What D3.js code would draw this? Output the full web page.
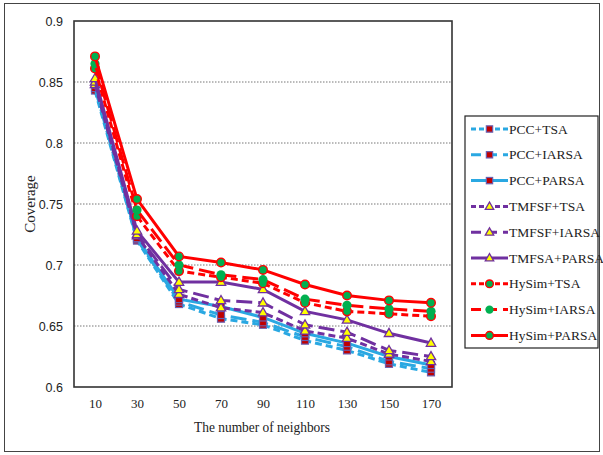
<!DOCTYPE html>
<html>
<head>
<meta charset="utf-8">
<script src="https://cdn.jsdelivr.net/npm/d3@7"></script>
<style>
  html, body { margin: 0; padding: 0; background: #fff; }
  svg { display: block; }
</style>
</head>
<body>
<svg id="chart" width="603" height="455"></svg>
<script>
// Neighbourhood sizes on the x axis
const neighbors = [10, 30, 50, 70, 90, 110, 130, 150, 170];
const yTicks = [0.6, 0.65, 0.7, 0.75, 0.8, 0.85, 0.9];

// Coverage per method
const pccTSA      = [0.843, 0.720, 0.668, 0.656, 0.651, 0.638, 0.630, 0.619, 0.612];
const pccIARSA    = [0.845, 0.721, 0.670, 0.659, 0.653, 0.641, 0.633, 0.621, 0.615];
const pccPARSA    = [0.848, 0.722, 0.672, 0.666, 0.657, 0.644, 0.636, 0.625, 0.618];
const tmfsfTSA    = [0.848, 0.724, 0.676, 0.665, 0.661, 0.646, 0.640, 0.627, 0.621];
const tmfsfIARSA  = [0.850, 0.725, 0.680, 0.671, 0.669, 0.651, 0.645, 0.630, 0.625];
const tmfsaPARSA  = [0.853, 0.728, 0.686, 0.686, 0.680, 0.662, 0.655, 0.644, 0.636];
const hysimTSA    = [0.861, 0.740, 0.695, 0.690, 0.685, 0.669, 0.662, 0.660, 0.658];
const hysimIARSA  = [0.865, 0.745, 0.700, 0.692, 0.688, 0.672, 0.667, 0.664, 0.662];
const hysimPARSA  = [0.871, 0.754, 0.707, 0.702, 0.696, 0.684, 0.675, 0.671, 0.669];

const seriesNames = ["PCC+TSA", "PCC+IARSA", "PCC+PARSA", "TMFSF+TSA", "TMFSF+IARSA",
                     "TMFSA+PARSA", "HySim+TSA", "HySim+IARSA", "HySim+PARSA"];
const seriesValues = [pccTSA, pccIARSA, pccPARSA, tmfsfTSA, tmfsfIARSA,
                      tmfsaPARSA, hysimTSA, hysimIARSA, hysimPARSA];

const BLUE = "#2aa8e2", PURPLE = "#7030a0", RED = "#ff0000";
const SHORT = "7,4", LONG = "16,6";
const styles = [
  { color: BLUE,   dash: SHORT, marker: "square" },
  { color: BLUE,   dash: LONG,  marker: "square" },
  { color: BLUE,   dash: null,  marker: "square" },
  { color: PURPLE, dash: SHORT, marker: "triangle" },
  { color: PURPLE, dash: LONG,  marker: "triangle" },
  { color: PURPLE, dash: null,  marker: "triangle" },
  { color: RED,    dash: SHORT, marker: "circle" },
  { color: RED,    dash: LONG,  marker: "dot" },
  { color: RED,    dash: null,  marker: "circle" }
];

const svg = d3.select("#chart");

// outer frame
svg.append("rect").attr("x", 4.5).attr("y", 3.5).attr("width", 595).attr("height", 448)
  .attr("fill", "none").attr("stroke", "#444").attr("stroke-width", 1);

const plot = { left: 74, top: 21, right: 452, bottom: 387 };

const x = d3.scalePoint().domain(neighbors).range([plot.left, plot.right]).padding(0.5);
const y = d3.scaleLinear().domain([0.6, 0.9]).range([plot.bottom, plot.top]);

// dotted gridlines
svg.append("g").selectAll("line").data(yTicks.slice(1, -1)).join("line")
  .attr("x1", plot.left).attr("x2", plot.right)
  .attr("y1", d => y(d)).attr("y2", d => y(d))
  .attr("stroke", "#777").attr("stroke-width", 1).attr("stroke-dasharray", "1.5,1.5");

// y axis labels
const yAxis = d3.axisLeft(y).tickValues(yTicks).tickSize(0).tickPadding(11)
  .tickFormat(d => d3.format("")(+d.toFixed(2)));
const gy = svg.append("g").attr("transform", `translate(${plot.left},0)`).call(yAxis);
gy.select(".domain").remove();
gy.selectAll("text").attr("font-family", "Liberation Sans, Arial, sans-serif")
  .attr("font-size", 12.5).attr("fill", "#222");

// x axis labels
const xAxis = d3.axisBottom(x).tickSize(0).tickPadding(12);
const gx = svg.append("g").attr("transform", `translate(0,${plot.bottom})`).call(xAxis);
gx.select(".domain").remove();
gx.selectAll("text").attr("font-family", "Liberation Serif, Times New Roman, serif")
  .attr("font-size", 13).attr("fill", "#222");

// plot border
svg.append("rect").attr("x", plot.left).attr("y", plot.top)
  .attr("width", plot.right - plot.left).attr("height", plot.bottom - plot.top)
  .attr("fill", "none").attr("stroke", "#333").attr("stroke-width", 1.6);

// axis titles
svg.append("text").attr("x", (plot.left + plot.right) / 2 - 1).attr("y", 432)
  .attr("text-anchor", "middle").attr("font-family", "Liberation Serif, Times New Roman, serif")
  .attr("font-size", 15).attr("textLength", 136).attr("lengthAdjust", "spacingAndGlyphs")
  .attr("fill", "#222").text("The number of neighbors");
svg.append("text").attr("transform", `translate(35,${(plot.top + plot.bottom) / 2}) rotate(-90)`)
  .attr("text-anchor", "middle").attr("font-family", "Liberation Serif, Times New Roman, serif")
  .attr("font-size", 15).attr("fill", "#222").text("Coverage");

function drawMarker(g, type, cx, cy, scale) {
  const k = scale || 1;
  if (type === "square") {
    g.append("rect").attr("x", cx - 3.5 * k).attr("y", cy - 3.5 * k)
      .attr("width", 7 * k).attr("height", 7 * k)
      .attr("fill", "#c00000").attr("stroke", "#6a5fb0").attr("stroke-width", 1.2);
  } else if (type === "triangle") {
    g.append("path").attr("d", d3.symbol(d3.symbolTriangle, 38 * k * k)())
      .attr("transform", `translate(${cx},${cy + 0.5})`)
      .attr("fill", "#ffff00").attr("stroke", PURPLE).attr("stroke-width", 1.3);
  } else if (type === "circle") {
    g.append("circle").attr("cx", cx).attr("cy", cy).attr("r", 4.3 * k)
      .attr("fill", "#00b050").attr("stroke", RED).attr("stroke-width", 1.4);
  } else {
    g.append("circle").attr("cx", cx).attr("cy", cy).attr("r", 4.6 * k)
      .attr("fill", "#00b050");
  }
}

const line = d3.line().x((d, i) => x(neighbors[i])).y(d => y(d));

seriesValues.forEach((vals, k) => {
  const s = styles[k];
  const g = svg.append("g");
  g.append("path").datum(vals).attr("d", line)
    .attr("fill", "none").attr("stroke", s.color).attr("stroke-width", 3)
    .attr("stroke-dasharray", s.dash);
  vals.forEach((v, i) => drawMarker(g, s.marker, x(neighbors[i]), y(v)));
});

// legend
const lg = svg.append("g");
lg.append("rect").attr("x", 465).attr("y", 116).attr("width", 133).attr("height", 232)
  .attr("fill", "#fff").attr("stroke", "#222").attr("stroke-width", 1.2);
seriesNames.forEach((name, k) => {
  const s = styles[k];
  const ly = 129 + k * 25.8;
  lg.append("line").attr("x1", 471).attr("x2", 508).attr("y1", ly).attr("y2", ly)
    .attr("stroke", s.color).attr("stroke-width", 3)
    .attr("stroke-dasharray", s.dash === LONG ? "10,6" : (s.dash ? "5,3" : null));
  drawMarker(lg, s.marker, 489.5, ly, 0.9);
  lg.append("text").attr("x", 509).attr("y", ly + 4.5)
    .attr("font-family", "Liberation Serif, Times New Roman, serif")
    .attr("font-size", 13.5).attr("fill", "#222").text(name);
});
</script>
</body>
</html>
